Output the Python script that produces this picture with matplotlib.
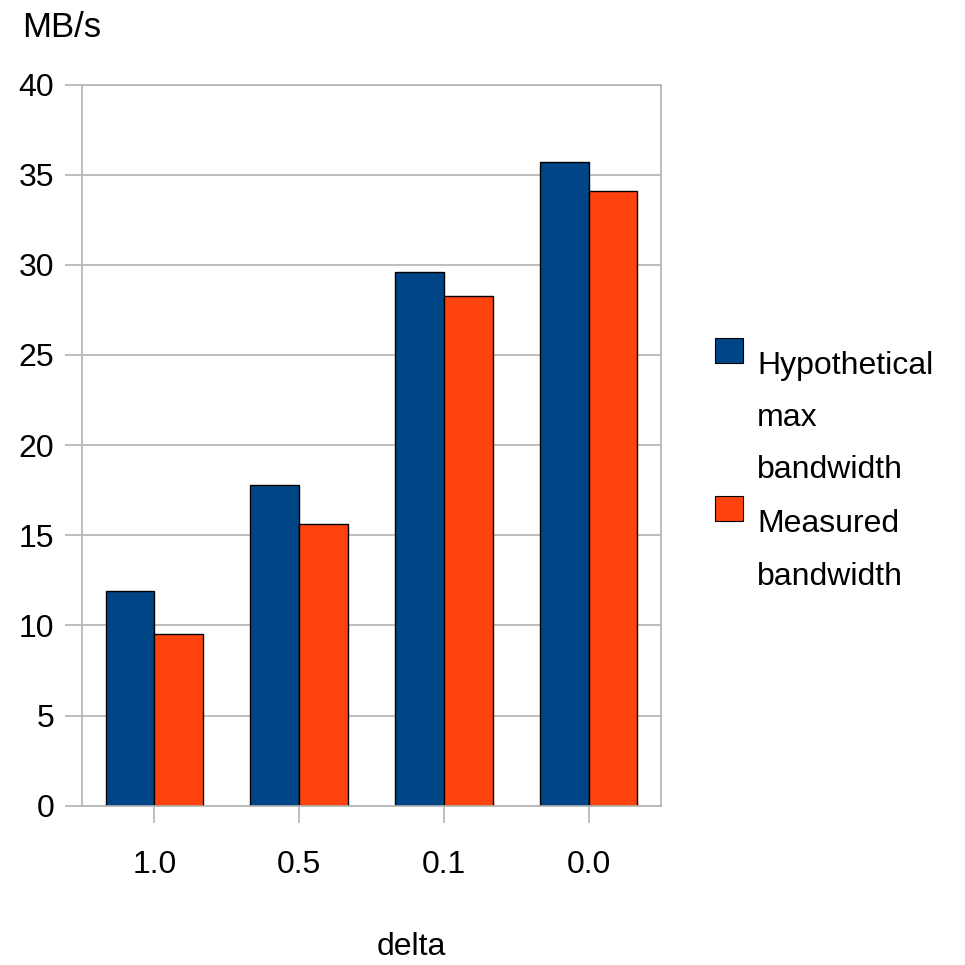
import numpy as np
import matplotlib
matplotlib.use('Agg')
import matplotlib.pyplot as plt
from matplotlib.patches import Rectangle

plt.rcParams['font.family'] = ['Liberation Sans', 'DejaVu Sans']

deltas = ['1.0', '0.5', '0.1', '0.0']
hypothetical = [11.9, 17.8, 29.6, 35.7]
measured = [9.55, 15.6, 28.25, 34.1]
legend_lines = [['Hypothetical', 'max', 'bandwidth'], ['Measured', 'bandwidth']]
colors = ['#004586', '#ff420e']
grid_col = '#b3b3b3'

W = H = 965.0
fig = plt.figure(figsize=(9.65, 9.65), dpi=100)


def px(x, y):
    # pixel position (from top-left) -> figure fraction
    return x / W, 1 - y / H


ax = fig.add_axes([82 / W, 1 - 805.7 / H, (661 - 82) / W, (805.7 - 84.5) / H])

x = np.arange(len(deltas))
bw = 0.336
ax.bar(x - bw / 2, hypothetical, bw, color=colors[0], edgecolor='black', linewidth=1)
ax.bar(x + bw / 2, measured, bw, color=colors[1], edgecolor='black', linewidth=1)

ax.set_xlim(-0.5, 3.5)
ax.set_ylim(0, 40)
ax.set_yticks(range(0, 41, 5))
ax.set_xticks(x)
ax.set_xticklabels(deltas)
ax.grid(axis='y', color=grid_col, linewidth=1.2)
ax.set_axisbelow(True)
for s in ax.spines.values():
    s.set_color(grid_col)
    s.set_linewidth(1.2)
ax.tick_params(axis='both', color=grid_col, width=1.2, length=12, labelsize=23)
ax.tick_params(axis='y', pad=8)
ax.tick_params(axis='x', pad=20)

fig.text(*px(22, 37), 'MB/s', fontsize=25, va='baseline', ha='left')
fig.text(*px(411, 955), 'delta', fontsize=23, va='baseline', ha='center')

# legend drawn by hand so the swatch sits on the first text line
tops = [338, 496]
baselines = [[374, 426, 478], [532, 585]]
for col, top, lines, bls in zip(colors, tops, legend_lines, baselines):
    x0, y0 = px(715, top + 25)
    fig.add_artist(Rectangle((x0, y0), 28 / W, 25 / H, transform=fig.transFigure,
                             facecolor=col, edgecolor='black', linewidth=0.8))
    for line, bl in zip(lines, bls):
        fig.text(*px(757, bl), line, fontsize=23, va='baseline', ha='left')

fig.savefig('out.png', dpi=100)
